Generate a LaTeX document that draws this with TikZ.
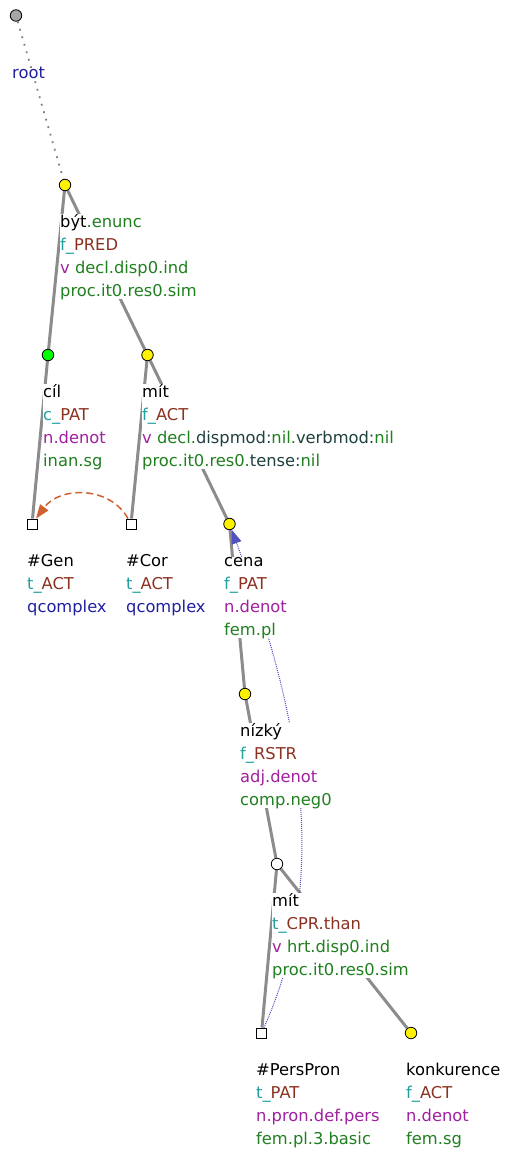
\documentclass[tikz,border=0pt]{standalone}
\usepackage{fontspec}
\setmainfont{DejaVu Sans}
\usepackage{xcolor}
\usetikzlibrary{arrows.meta,positioning}

\definecolor{edgegray}{RGB}{140,140,140}
\definecolor{funcol}{RGB}{32,160,160}
\definecolor{fnccol}{RGB}{140,48,32}
\definecolor{gramcol}{RGB}{160,32,160}
\definecolor{attrcol}{RGB}{32,128,32}
\definecolor{namecol}{RGB}{32,64,64}
\definecolor{qcol}{RGB}{32,32,160}
\definecolor{corgram}{RGB}{208,96,48}
\definecolor{cortext}{RGB}{80,80,190}

\newcommand{\tfr}[1]{\textcolor{funcol}{#1}}
\newcommand{\fnc}[1]{\textcolor{fnccol}{#1}}
\newcommand{\gmm}[1]{\textcolor{gramcol}{#1}}
\newcommand{\atv}[1]{\textcolor{attrcol}{#1}}
\newcommand{\atn}[1]{\textcolor{namecol}{#1}}
\newcommand{\qcx}[1]{\textcolor{qcol}{#1}}

\pgfdeclarelayer{bg}
\pgfsetlayers{bg,main}

\begin{document}
\begin{tikzpicture}[x=1pt, y=-1pt,
    tnode/.style={circle, draw=black, line width=0.8pt, minimum size=11.5pt, inner sep=0pt},
    tsq/.style={rectangle, draw=black, fill=white, line width=0.8pt, minimum size=10pt, inner sep=0pt},
    edge/.style={draw=edgegray, line width=3pt},
    lbl/.style={anchor=base west, align=left, fill=white, inner sep=0pt, font=\fontsize{16.3}{23}\selectfont},
    corg/.style={draw=corgram, line width=1.5pt, dash pattern=on 7pt off 4pt, -{Triangle[length=14pt,width=10pt]}},
    cort/.style={draw=cortext, line width=1pt, dash pattern=on 1pt off 1pt, -{Triangle[length=14pt,width=10pt]}}]
    \useasboundingbox (0,0) rectangle (508,1155);

    % Tree nodes
    \node[tnode, fill=black!35] (root) at (16,15.5) {};
    \node[tnode, fill=yellow] (byt) at (65,185) {};
    \node[tnode, fill=green] (cil) at (48,355) {};
    \node[tnode, fill=yellow] (mit) at (147.5,355) {};
    \node[tsq] (gen) at (32,524) {};
    \node[tsq] (cor) at (131,524) {};
    \node[tnode, fill=yellow] (cena) at (229.5,524) {};
    \node[tnode, fill=yellow] (nizky) at (245,694) {};
    \node[tnode, fill=white] (mitb) at (277,864) {};
    \node[tsq] (pers) at (261.5,1033) {};
    \node[tnode, fill=yellow] (konk) at (411,1033) {};

    % Edges and coreference
    \begin{pgfonlayer}{bg}
        \draw[draw=black!50, line width=1.8pt, dash pattern=on 1.8pt off 6pt] (root) -- (byt);
        \draw[edge] (byt) -- (cil);
        \draw[edge] (byt) -- (mit);
        \draw[edge] (cil) -- (gen);
        \draw[edge] (mit) -- (cor);
        \draw[edge] (mit) -- (cena);
        \draw[edge] (cena) -- (nizky);
        \draw[edge] (nizky) -- (mitb);
        \draw[edge] (mitb) -- (pers);
        \draw[edge] (mitb) -- (konk);
        \draw[corg] (cor) .. controls (110,486) and (60,486) .. (gen);
        \draw[cort] (pers) .. controls (335,870) and (295,700) .. (cena);
    \end{pgfonlayer}

    % Labels (anchored at the baseline of the last line)
    \node[lbl] (rootL) at (12,79) {\qcx{root}};
    \node[lbl] (bytL) at (60,296) {být\atv{.enunc}\\\tfr{f\_}\fnc{PRED}\\\gmm{v} \atv{decl.disp0.ind}\\\atv{proc.it0.res0.sim}};
    \node[lbl] (cilL) at (43,466) {cíl\\\tfr{c\_}\fnc{PAT}\\\gmm{n.denot}\\\atv{inan.sg}};
    \node[lbl] (mitL) at (142,466) {mít\\\tfr{f\_}\fnc{ACT}\\\gmm{v} \atv{decl.}\atn{dispmod:}\atv{nil.}\atn{verbmod:}\atv{nil}\\\atv{proc.it0.res0.}\atn{tense:}\atv{nil}};
    \node[lbl] (genL) at (27,612) {\#Gen\\\tfr{t\_}\fnc{ACT}\\\qcx{qcomplex}};
    \node[lbl] (corL) at (126,612) {\#Cor\\\tfr{t\_}\fnc{ACT}\\\qcx{qcomplex}};
    \node[lbl] (cenaL) at (224,635) {cena\\\tfr{f\_}\fnc{PAT}\\\gmm{n.denot}\\\atv{fem.pl}};
    \node[lbl] (nizkyL) at (240,805) {nízký\\\tfr{f\_}\fnc{RSTR}\\\gmm{adj.denot}\\\atv{comp.neg0}};
    \node[lbl] (mitbL) at (272,975) {mít\\\tfr{t\_}\fnc{CPR.than}\\\gmm{v} \atv{hrt.disp0.ind}\\\atv{proc.it0.res0.sim}};
    \node[lbl] (persL) at (256,1144) {\#PersPron\\\tfr{t\_}\fnc{PAT}\\\gmm{n.pron.def.pers}\\\atv{fem.pl.3.basic}};
    \node[lbl] (konkL) at (406,1144) {konkurence\\\tfr{f\_}\fnc{ACT}\\\gmm{n.denot}\\\atv{fem.sg}};
\end{tikzpicture}
\end{document}
